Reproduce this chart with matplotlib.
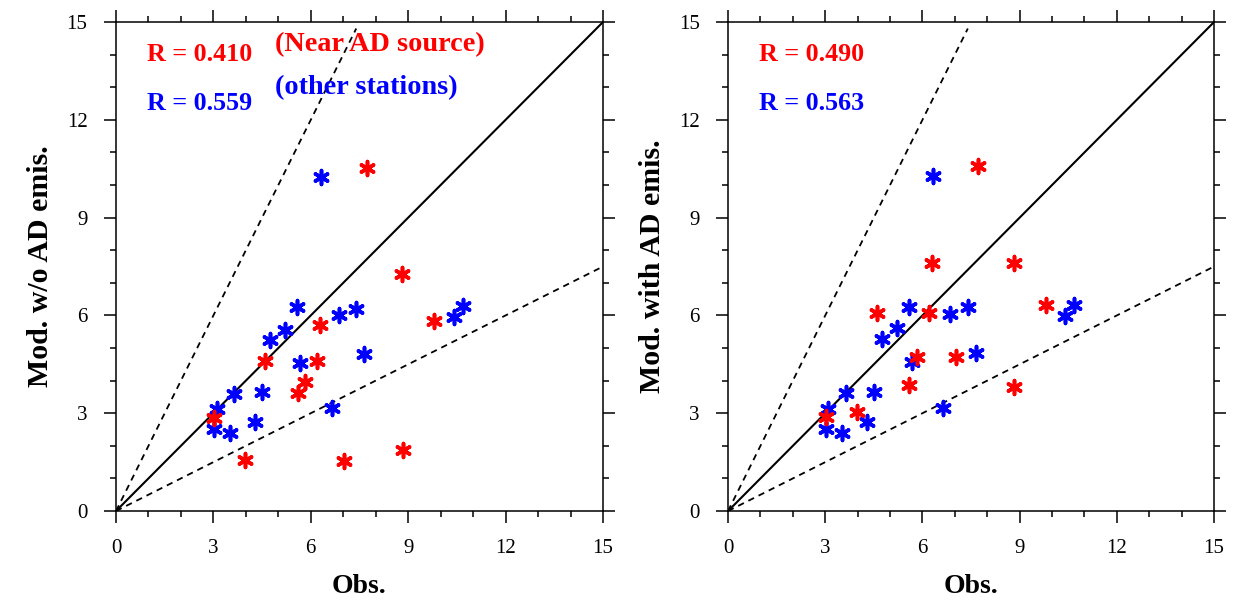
import matplotlib
matplotlib.use("Agg")
import matplotlib.pyplot as plt
from matplotlib.ticker import MultipleLocator

plt.rcParams['font.family'] = ['Liberation Serif', 'DejaVu Serif']

# Near AD source stations (red)
obs_near = [7.72, 8.81, 6.28, 4.59, 6.20, 5.82, 5.60, 3.02, 3.97, 7.02, 8.84, 9.80]
mod_near_wo = [10.51, 7.27, 5.71, 4.60, 4.60, 3.97, 3.61, 2.86, 1.58, 1.53, 1.87, 5.83]
mod_near_with = [10.59, 7.60, 7.60, 6.06, 6.06, 4.73, 3.86, 2.89, 3.03, 4.73, 3.81, 6.32]

# Other stations (blue)
obs_other = [6.32, 5.58, 4.74, 5.20, 6.86, 7.40, 5.68, 7.65, 3.63, 4.50, 3.10, 3.01,
             3.52, 4.28, 6.64, 10.40, 10.68]
mod_other_wo = [10.26, 6.25, 5.26, 5.56, 6.01, 6.21, 4.55, 4.82, 3.60, 3.65, 3.12,
                2.51, 2.38, 2.72, 3.17, 5.95, 6.29]
mod_other_with = [10.27, 6.27, 5.27, 5.60, 6.03, 6.25, 4.56, 4.84, 3.63, 3.66, 3.12,
                  2.51, 2.38, 2.72, 3.17, 5.98, 6.32]

r_near = ["R = 0.410", "R = 0.490"]
r_other = ["R = 0.559", "R = 0.563"]
ylabels = ["Mod. w/o AD emis.", "Mod. with AD emis."]
xlabel = "Obs."
ticks = [0, 3, 6, 9, 12, 15]

fig = plt.figure(figsize=(12.42, 6), dpi=100)
ax1 = fig.add_axes([0.0934, 0.1483, 0.3921, 0.815])
ax2 = fig.add_axes([0.5862, 0.1483, 0.3913, 0.815])

marker = (6, 2, 0)
for i, (ax, mn, mo) in enumerate([(ax1, mod_near_wo, mod_other_wo),
                                  (ax2, mod_near_with, mod_other_with)]):
    ax.plot([0, 15], [0, 15], color='black', lw=1.5, solid_capstyle='butt')
    ax.plot([0, 7.4], [0, 14.8], color='black', lw=1.3, ls=(0, (3.5, 2.8)))
    ax.plot([0, 15], [0, 7.5], color='black', lw=1.3, ls=(0, (3.5, 2.8)))
    ax.scatter(obs_other, mo, marker=marker, s=100, color='#0000ff', linewidths=2.6, zorder=3)
    ax.scatter(obs_near, mn, marker=marker, s=100, color='#ff0000', linewidths=2.6, zorder=3)
    ax.set_xlim(0, 15)
    ax.set_ylim(0, 15)
    ax.set_xticks(ticks)
    ax.set_yticks(ticks)
    ax.xaxis.set_minor_locator(MultipleLocator(1))
    ax.yaxis.set_minor_locator(MultipleLocator(1))
    ax.tick_params(which='both', direction='out', top=True, right=True,
                   labeltop=False, labelright=False, width=1.1, labelsize=15)
    ax.tick_params(which='major', length=8.5, pad=12)
    ax.tick_params(which='minor', length=4)
    for sp in ax.spines.values():
        sp.set_linewidth(1.1)
    ax.set_xlabel(xlabel, fontsize=20, fontweight='bold', labelpad=11)
    ax.set_ylabel(ylabels[i], fontsize=21.5, fontweight='bold', labelpad=9)
    ax.text(0.95, 14.0, r_near[i], color='#ff0000', fontsize=18.7, fontweight='bold',
            ha='left', va='center')
    ax.text(0.95, 12.5, r_other[i], color='#0000ff', fontsize=18.7, fontweight='bold',
            ha='left', va='center')

ax1.text(4.9, 14.3, "(Near AD source)", color='#ff0000', fontsize=20.3, fontweight='bold',
         ha='left', va='center')
ax1.text(4.9, 13.0, "(other stations)", color='#0000ff', fontsize=20.3, fontweight='bold',
         ha='left', va='center')

fig.savefig("out.png", dpi=100)
